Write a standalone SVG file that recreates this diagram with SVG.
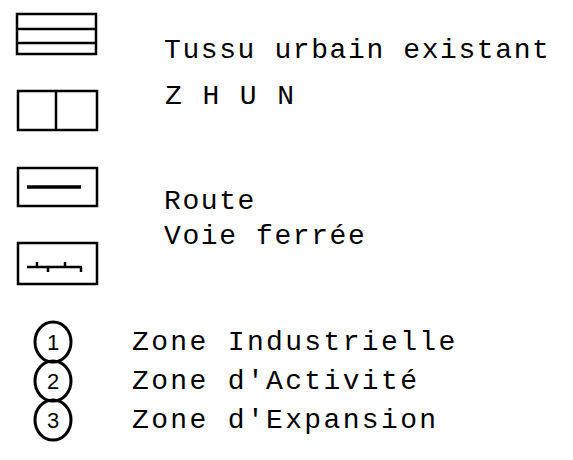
<svg xmlns="http://www.w3.org/2000/svg" width="573" height="460" viewBox="0 0 573 460">
<style>
.box{fill:none;stroke:#000;stroke-width:2.5}
.ln{stroke:#000;stroke-width:2.5;fill:none}
.t{font-family:"Liberation Mono","DejaVu Sans Mono",monospace;font-size:28px;letter-spacing:1.6px;fill:#000}
.z{letter-spacing:2.35px}
.c{fill:none;stroke:#000;stroke-width:3}
.n{font-family:"Liberation Sans","DejaVu Sans",sans-serif;font-size:22px;fill:#000;text-anchor:middle}
</style>
<rect width="573" height="460" fill="#fff"/>
<g id="tissu">
<rect class="box" x="17" y="14" width="79" height="40"/>
<line class="ln" x1="17" y1="29" x2="96" y2="29"/>
<line class="ln" x1="17" y1="43" x2="96" y2="43"/>
<text class="t" x="164" y="58">Tussu urbain existant</text>
</g>
<g id="zhun">
<rect class="box" x="18" y="91" width="79" height="39"/>
<line class="ln" x1="56" y1="91" x2="56" y2="130"/>
<text class="t" x="165" y="104" style="letter-spacing:1.9px">Z H U N</text>
</g>
<g id="route">
<rect class="box" x="18" y="168" width="79" height="38"/>
<line x1="27" y1="187" x2="81" y2="187" stroke="#000" stroke-width="3.5"/>
<text class="t" x="164" y="209">Route</text>
</g>
<g id="voie">
<rect class="box" x="18" y="243" width="79" height="41"/>
<path class="ln" stroke-width="1.8" d="M27 267H82M37 267V262M48 267V272M65 267V262M81 267V272"/>
<text class="t" x="164" y="244">Voie ferrée</text>
</g>
<g id="z1">
<ellipse class="c" cx="53" cy="342" rx="18" ry="20"/>
<text class="n" x="53" y="350">1</text>
<text class="t z" x="132" y="350">Zone Industrielle</text>
</g>
<g id="z2">
<ellipse class="c" cx="53" cy="381" rx="18" ry="20"/>
<text class="n" x="53" y="389">2</text>
<text class="t z" x="132" y="389">Zone d'Activité</text>
</g>
<g id="z3">
<ellipse class="c" cx="53" cy="420" rx="18" ry="20"/>
<text class="n" x="53" y="428">3</text>
<text class="t z" x="132" y="428">Zone d'Expansion</text>
</g>
<g id="connectors"></g>
</svg>
